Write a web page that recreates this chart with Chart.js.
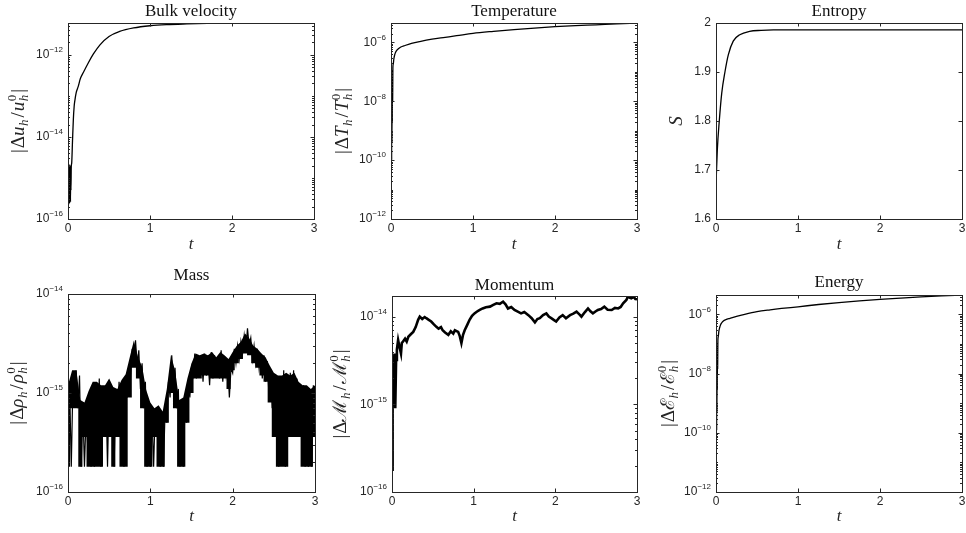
<!DOCTYPE html>
<html>
<head>
<meta charset="utf-8">
<script src="https://cdn.jsdelivr.net/npm/chart.js@4.4.0/dist/chart.umd.min.js"></script>
<style>
  body { margin: 0; background: #fff; overflow: hidden; }
  #wrap { position: relative; width: 966px; height: 533px; }
  #wrap canvas { position: absolute; }
</style>
</head>
<body>
<div id="wrap"></div>
<script>
// ---- data ----
const xTicks = [0, 1, 2, 3];

// Bulk velocity |du/u0|
const bulkT = [0, 0.003, 0.006, 0.009, 0.012, 0.015, 0.018, 0.021, 0.024, 0.027, 0.030, 0.033, 0.036, 0.040,
  0.045, 0.055, 0.065, 0.075, 0.085, 0.10, 0.125, 0.15, 0.19, 0.25, 0.31, 0.39, 0.50, 0.63, 0.80, 1.00,
  1.20, 1.45, 1.70, 2.00, 2.50, 3.00];
const bulkV = [2.3e-16, 1.9e-15, 2.2e-16, 1.6e-15, 3e-16, 2.1e-15, 2.4e-16, 1.8e-15, 3.5e-16, 2.0e-15, 2.6e-16, 1.7e-15, 5e-16, 1.9e-15,
  2.3e-15, 8e-15, 2.6e-14, 5.5e-14, 8e-14, 1.2e-13, 1.7e-13, 2.6e-13, 3.8e-13, 6.5e-13, 1.05e-12, 1.75e-12, 2.8e-12, 3.7e-12, 4.5e-12, 5.1e-12,
  5.45e-12, 5.66e-12, 5.8e-12, 5.87e-12, 5.9e-12, 5.9e-12];
const bulkTicks = [1e-16, 1e-14, 1e-12];

// Temperature |dT/T0|
const tempT = [0, 0.002, 0.004, 0.006, 0.008, 0.010, 0.012, 0.014, 0.016, 0.018, 0.020, 0.023, 0.028, 0.035,
  0.045, 0.055, 0.07, 0.09, 0.12, 0.17, 0.25, 0.35, 0.50, 0.66, 0.80, 1.00, 1.25, 1.50, 1.75, 2.00,
  2.25, 2.50, 2.75, 3.00];
const tempV = [2e-11, 3e-9, 2.5e-11, 6e-8, 1e-10, 1e-7, 4e-10, 8e-8, 2e-9, 1.2e-7, 1e-8, 1.4e-7, 1.9e-7, 2.8e-7,
  3.8e-7, 4.6e-7, 5.4e-7, 6.1e-7, 7e-7, 7.9e-7, 9.3e-7, 1.08e-6, 1.3e-6, 1.5e-6, 1.7e-6, 2.05e-6, 2.4e-6, 2.75e-6, 3.1e-6, 3.45e-6,
  3.75e-6, 4.0e-6, 4.3e-6, 4.55e-6];
const tempTicks = [1e-12, 1e-10, 1e-8, 1e-6];

// Entropy S
const entT = [0, 0.016, 0.04, 0.07, 0.11, 0.15, 0.21, 0.29, 0.41, 0.55, 0.70, 1.0, 2.0, 3.0];
const entV = [1.67, 1.741, 1.80, 1.857, 1.901, 1.935, 1.963, 1.976, 1.983, 1.985, 1.986, 1.986, 1.986, 1.986];
const entTicks = [1.6, 1.7, 1.8, 1.9, 2.0];

// Mass |drho/rho0|, values in units of 1e-16
const MASS_UNIT = 1e-16;
// raw trace, sampled every MASS_DT
const MASS_DT = 0.02;
const massV = [
  1.8, 11, 1.8, 13, 9, 17, 7, 15, 1.8, 7,
  1.8, 6, 2.9, 9, 1.8, 11, 1.8, 12, 5, 14,
  1.8, 11, 3.6, 11, 1.8, 12, 5, 9, 1.8, 10,
  5, 13, 8, 11, 1.8, 12, 9, 17, 15, 28,
  20, 34, 19, 27, 11, 20, 7, 13, 1.8, 7,
  1.8, 6, 1.8, 7, 3.6, 7, 1.8, 6, 1.8, 7,
  5, 13, 9, 24, 12, 18, 7, 11, 1.8, 6,
  1.8, 7, 5, 13, 9, 18, 15, 25, 14, 24,
  17, 23, 13, 25, 15, 22, 12, 26, 14, 24,
  16, 21, 14, 27, 13, 23, 15, 20, 9, 18,
  16, 28, 20, 30, 22, 33, 25, 38, 27, 45,
  30, 36, 22, 30, 20, 28, 18, 25, 14, 24,
  13, 21, 10, 17, 7, 15, 6, 14, 1.8, 13,
  3.6, 17, 1.8, 15, 3.6, 16, 5, 17, 3.6, 14,
  5, 11, 3.6, 12, 1.8, 11, 1.8, 8, 1.8, 12,
  3.6];
// solid part of the trace: upper and lower edge, every MASS_BAND_DT
const MASS_BAND_DT = 0.05;
const massHi = [12, 17, 17, 8.5, 8, 10.5, 13, 13, 12, 12,
  14, 11.5, 11, 13.5, 15.5, 23, 34, 23, 18.5, 10.7,
  8, 7, 7.5, 6.5, 11, 24, 17, 8.5, 9, 14,
  20, 25, 24, 25, 24, 26, 23, 26, 24, 22,
  26, 30, 33, 40, 36, 30, 28, 25, 23, 19,
  16, 15, 15, 16, 15, 16, 13, 12, 12, 11, 12];
const massLo = [1.8, 7, 7, 1.8, 3.6, 1.8, 1.8, 1.8, 1.8, 3.6,
  3.6, 1.8, 3.6, 1.8, 1.8, 9, 18, 14, 7, 1.8,
  1.8, 3.6, 1.8, 1.8, 5, 10, 7, 1.8, 1.8, 5,
  10, 14, 14, 15, 15, 14, 14, 14, 14, 11,
  17, 20, 22, 25, 24, 20, 18, 15, 13, 8,
  3.6, 1.8, 1.8, 1.8, 3.6, 3.6, 3.6, 1.8, 1.8, 1.8, 3.6];
const massTicks = [1e-16, 1e-15, 1e-14];

// Momentum |dM/M0|, values in units of 1e-15
const MOM_UNIT = 1e-15;
const momT = [0.000, 0.005, 0.010, 0.020, 0.030, 0.040, 0.050, 0.060, 0.075, 0.090, 0.110, 0.120, 0.135, 0.160, 0.180,
  0.200, 0.230, 0.260, 0.290, 0.320, 0.340, 0.370, 0.400, 0.420, 0.450, 0.480, 0.510, 0.540, 0.570, 0.600,
  0.620, 0.650, 0.690, 0.720, 0.750, 0.770, 0.810, 0.830, 0.850, 0.870, 0.890, 0.920, 0.950, 0.980, 1.010,
  1.050, 1.080, 1.110, 1.150, 1.200, 1.240, 1.280, 1.320, 1.360, 1.390, 1.420, 1.460, 1.500, 1.540, 1.580,
  1.620, 1.670, 1.710, 1.750, 1.780, 1.810, 1.850, 1.890, 1.920, 1.950, 1.980, 2.010, 2.050, 2.090, 2.130,
  2.180, 2.220, 2.260, 2.300, 2.320, 2.360, 2.400, 2.430, 2.460, 2.500, 2.520, 2.560, 2.600, 2.640, 2.690,
  2.730, 2.770, 2.800, 2.830, 2.870, 2.890, 2.910, 2.930, 2.960, 2.980, 3.000];
const momV = [0.18, 0.5, 3.2, 2.6, 3.8, 0.9, 3.2, 4.2, 5.4, 4.6, 3.8, 5.0, 5.2, 5.6, 5.2,
  5.9, 6.3, 6.7, 7.6, 9.2, 10.0, 9.4, 9.9, 9.6, 9.2, 8.8, 8.2, 7.7, 7.3, 7.6,
  7.0, 6.6, 6.2, 6.8, 6.4, 7.0, 6.7, 6.0, 5.0, 6.2, 7.0, 8.0, 9.2, 10.2, 10.9,
  11.6, 12.0, 12.4, 12.8, 13.0, 13.6, 14.2, 14.0, 14.8, 13.8, 12.4, 12.9, 11.9, 11.4, 10.9,
  11.3, 10.4, 9.6, 8.6, 9.4, 9.6, 10.4, 10.9, 10.0, 9.6, 9.2, 8.8, 9.8, 10.4, 9.6,
  10.4, 10.8, 11.4, 10.5, 10.0, 11.2, 12.4, 11.5, 10.9, 11.6, 11.9, 12.2, 13.0, 12.0, 11.9,
  12.6, 12.4, 12.9, 14.2, 15.5, 17.1, 16.5, 16.2, 16.8, 15.9, 15.8];
const momTicks = [1e-16, 1e-15, 1e-14];

// Energy |dE/E0|
const enerT = tempT;
const enerV = [1.6e-11, 2e-9, 2e-11, 5e-8, 1.2e-10, 9e-8, 5e-10, 7e-8, 3e-9, 1.1e-7, 1.5e-8, 1.3e-7, 1.8e-7, 2.7e-7,
  3.6e-7, 4.4e-7, 5.2e-7, 6e-7, 6.6e-7, 7.3e-7, 8.5e-7, 1.0e-6, 1.23e-6, 1.42e-6, 1.58e-6, 1.8e-6, 2.15e-6, 2.5e-6, 2.85e-6, 3.2e-6,
  3.55e-6, 3.9e-6, 4.2e-6, 4.45e-6];
const enerTicks = [1e-12, 1e-10, 1e-8, 1e-6];

// ---- styling ----
const AXIS_COLOR = '#262626';
const SANS = '"Liberation Sans", Arial, sans-serif';
const TICK_FONT = { family: SANS, size: 12 };
const SERIF = '"Liberation Serif", "Times New Roman", serif';
const CAL = '"DejaVu Serif", serif';
const TITLE_SIZE = 17;

// MATLAB-like box with inward ticks, power-of-ten tick labels and LaTeX-ish y label
const matlabAxes = {
  id: 'matlabAxes',
  afterDatasetsDraw(chart) {
    const { ctx, chartArea: a } = chart;
    const x = chart.scales.x, y = chart.scales.y;
    const p = chart.options.plugins.matlabAxes;
    ctx.save();
    ctx.strokeStyle = AXIS_COLOR;
    ctx.lineWidth = 1;
    ctx.beginPath();
    x.ticks.forEach(tk => {
      const px = Math.round(x.getPixelForValue(tk.value)) + 0.5;
      ctx.moveTo(px, a.bottom); ctx.lineTo(px, a.bottom - 3.5);
      ctx.moveTo(px, a.top); ctx.lineTo(px, a.top + 3.5);
    });
    const hTick = (v, len) => {
      const py = Math.round(y.getPixelForValue(v)) + 0.5;
      ctx.moveTo(a.left, py); ctx.lineTo(a.left + len, py);
      ctx.moveTo(a.right, py); ctx.lineTo(a.right - len, py);
    };
    y.ticks.forEach(tk => hTick(tk.value, 3.5));
    const isLog = y.options.type === 'logarithmic';
    if (isLog) {
      const k0 = Math.floor(Math.log10(y.min)), k1 = Math.ceil(Math.log10(y.max));
      for (let k = k0; k <= k1; k++) {
        for (let m = 1; m < 10; m++) {
          const v = m * Math.pow(10, k);
          if (v >= y.min * 0.999 && v <= y.max) hTick(v, 2);
        }
      }
    }
    ctx.stroke();
    ctx.strokeRect(Math.round(a.left) + 0.5, Math.round(a.top) + 0.5,
      Math.round(a.right - a.left), Math.round(a.bottom - a.top));

    // 10^n labels
    ctx.fillStyle = AXIS_COLOR;
    if (isLog) {
      y.ticks.forEach(tk => {
        const py = y.getPixelForValue(tk.value);
        const e = String(Math.round(Math.log10(tk.value))).replace('-', '\u2212');
        const xr = a.left - 5;
        ctx.textAlign = 'right';
        ctx.textBaseline = 'middle';
        ctx.font = '8px ' + SANS;
        const ew = ctx.measureText(e).width;
        ctx.fillText(e, xr, py - 5);
        ctx.font = '12px ' + SANS;
        ctx.fillText('10', xr - ew, py);
      });
    }

    // y label with sub/superscripts, rotated
    drawRich(ctx, p.label, p.labelX, (a.top + a.bottom) / 2, p.labelSize);
    ctx.restore();
  }
};

function drawRich(ctx, tokens, cx, cy, size) {
  const small = Math.round(size * 0.68);
  const f = {
    r: size + 'px ' + SERIF,
    i: 'italic ' + size + 'px ' + SERIF,
    c: size + 'px ' + CAL,
    sub: 'italic ' + small + 'px ' + SERIF,
    sup: small + 'px ' + SERIF
  };
  const widthOf = tk => {
    if (tk.sub !== undefined || tk.sup !== undefined) {
      ctx.font = f.sub; const a = tk.sub ? ctx.measureText(tk.sub).width : 0;
      ctx.font = f.sup; const b = tk.sup ? ctx.measureText(tk.sup).width : 0;
      return Math.max(a, b) + 1.5;
    }
    ctx.font = f[tk.f || 'r'];
    return ctx.measureText(tk.s).width + (tk.pad || 0);
  };
  const total = tokens.reduce((s, tk) => s + widthOf(tk), 0);
  ctx.save();
  ctx.translate(cx, cy);
  ctx.rotate(-Math.PI / 2);
  ctx.fillStyle = AXIS_COLOR;
  ctx.textAlign = 'left';
  ctx.textBaseline = 'alphabetic';
  const base = size * 0.3;
  let xx = -total / 2;
  tokens.forEach(tk => {
    const w = widthOf(tk);
    if (tk.sub !== undefined || tk.sup !== undefined) {
      if (tk.sub) { ctx.font = f.sub; ctx.fillText(tk.sub, xx + 0.5, base + size * 0.22); }
      if (tk.sup) { ctx.font = f.sup; ctx.fillText(tk.sup, xx + 0.5, base - size * 0.42); }
    } else {
      ctx.font = f[tk.f || 'r'];
      ctx.fillText(tk.s, xx + (tk.pad || 0) / 2, base);
    }
    xx += w;
  });
  ctx.restore();
}

const bar = { s: '|', pad: 2 };
const panels = [
  { title: 'Bulk velocity', t: bulkT, v: bulkV, log: true,
    label: [bar, { s: '\u0394' }, { s: 'u', f: 'i' }, { sub: 'h' }, { s: '/', pad: 2 }, { s: 'u', f: 'i' }, { sub: 'h', sup: '0' }, bar],
    ymin: 1e-16, ymax: 5.95e-12, yticks: bulkTicks, lw: 1.3, smooth: true,
    plotL: 68, plotR: 314, plotT: 23, plotB: 219, titleY: 11, ylabX: 18, xlabY: 245 },
  { title: 'Temperature', t: tempT, v: tempV, log: true,
    label: [bar, { s: '\u0394' }, { s: 'T', f: 'i' }, { sub: 'h' }, { s: '/', pad: 2 }, { s: 'T', f: 'i' }, { sub: 'h', sup: '0' }, bar],
    ymin: 1e-12, ymax: 4.6e-6, yticks: tempTicks, lw: 1.3, smooth: true,
    plotL: 391, plotR: 637, plotT: 23, plotB: 219, titleY: 11, ylabX: 342, xlabY: 245 },
  { title: 'Entropy', t: entT, v: entV, log: false,
    label: [{ s: 'S', f: 'i' }],
    ymin: 1.6, ymax: 2.0, yticks: entTicks, lw: 1.3, smooth: true,
    plotL: 716, plotR: 962, plotT: 23, plotB: 219, titleY: 11, ylabX: 676, xlabY: 245 },
  { title: 'Mass', t: massV.map((_, i) => i * MASS_DT), v: massV.map(m => m * MASS_UNIT), log: true,
    band: { t: massHi.map((_, i) => i * MASS_BAND_DT), hi: massHi.map(m => m * MASS_UNIT), lo: massLo.map(m => m * MASS_UNIT) },
    label: [bar, { s: '\u0394' }, { s: '\u03C1', f: 'i' }, { sub: 'h' }, { s: '/', pad: 2 }, { s: '\u03C1', f: 'i' }, { sub: 'h', sup: '0' }, bar],
    ymin: 1e-16, ymax: 1e-14, yticks: massTicks, lw: 1.2, smooth: false,
    plotL: 68, plotR: 315, plotT: 294, plotB: 492, titleY: 275, ylabX: 17, xlabY: 517 },
  { title: 'Momentum', t: momT, v: momV.map(m => m * MOM_UNIT), log: true,
    label: [bar, { s: '\u0394' }, { s: '\u2133', f: 'c' }, { sub: 'h' }, { s: '/', pad: 2 }, { s: '\u2133', f: 'c' }, { sub: 'h', sup: '0' }, bar],
    ymin: 1e-16, ymax: 1.72e-14, yticks: momTicks, lw: 2.6, smooth: false,
    plotL: 392, plotR: 637, plotT: 296, plotB: 492, titleY: 285, ylabX: 340, xlabY: 517 },
  { title: 'Energy', t: enerT, v: enerV, log: true,
    label: [bar, { s: '\u0394' }, { s: '\u2130', f: 'c' }, { sub: 'h' }, { s: '/', pad: 2 }, { s: '\u2130', f: 'c' }, { sub: 'h', sup: '0' }, bar],
    ymin: 1e-12, ymax: 4.5e-6, yticks: enerTicks, lw: 1.3, smooth: true,
    plotL: 716, plotR: 962, plotT: 295, plotB: 492, titleY: 282, ylabX: 668, xlabY: 517 }
];

const wrap = document.getElementById('wrap');
const titleLH = TITLE_SIZE * 1.2;

panels.forEach(p => {
  const top = Math.round(p.titleY - 2 - titleLH / 2);
  const left = Math.round(p.ylabX - 10);
  const W = p.plotR + 4 - left;
  const H = Math.round(p.xlabY + 10) - top;
  const wy = p.plotL - left;
  const hx = H - (p.plotB - top);

  const cv = document.createElement('canvas');
  cv.width = W; cv.height = H;
  cv.style.left = left + 'px'; cv.style.top = top + 'px';
  cv.style.width = W + 'px'; cv.style.height = H + 'px';
  wrap.appendChild(cv);

  const datasets = [];
  if (p.band) {
    datasets.push({ data: p.band.t.map((tt, i) => ({ x: tt, y: p.band.lo[i] })), stepped: 'middle',
      borderWidth: 0, pointRadius: 0, fill: false, borderColor: 'rgba(0,0,0,0)' });
    datasets.push({ data: p.band.t.map((tt, i) => ({ x: tt, y: p.band.hi[i] })),
      borderWidth: 0, pointRadius: 0, fill: '-1', backgroundColor: '#000', borderColor: 'rgba(0,0,0,0)' });
  }
  datasets.push({
    data: p.t.map((tt, i) => ({ x: tt, y: p.v[i] })),
    borderColor: '#000',
    borderWidth: p.lw,
    pointRadius: 0,
    fill: false,
    cubicInterpolationMode: p.smooth ? 'monotone' : 'default',
    tension: 0
  });

  new Chart(cv.getContext('2d'), {
    type: 'line',
    data: { datasets },
    options: {
      responsive: false,
      animation: false,
      devicePixelRatio: 1,
      layout: { padding: 0 },
      plugins: {
        legend: { display: false },
        tooltip: { enabled: false },
        title: {
          display: true, text: p.title, fullSize: false,
          color: '#111',
          font: { family: SERIF, size: TITLE_SIZE, weight: 'normal' },
          padding: { top: 2, bottom: p.plotT - top - 2 - titleLH }
        },
        matlabAxes: { label: p.label, labelX: p.ylabX - left, labelSize: 19 }
      },
      scales: {
        x: {
          type: 'linear', min: 0, max: 3,
          grid: { display: false, drawTicks: false },
          border: { display: false },
          afterBuildTicks: s => { s.ticks = xTicks.map(v => ({ value: v })); },
          afterFit: s => { s.height = hx; s.paddingLeft = 0; s.paddingRight = 4; },
          ticks: { font: TICK_FONT, color: AXIS_COLOR, padding: 2, maxRotation: 0, callback: v => String(v) },
          title: { display: true, text: 't', color: AXIS_COLOR, padding: 0,
            font: { family: SERIF, size: 17, style: 'italic' } }
        },
        y: {
          type: p.log ? 'logarithmic' : 'linear', min: p.ymin, max: p.ymax,
          grid: { display: false, drawTicks: false },
          border: { display: false },
          afterBuildTicks: s => { s.ticks = p.yticks.map(v => ({ value: v })); },
          afterFit: s => { s.width = wy; s.paddingTop = 0; s.paddingBottom = 0; },
          ticks: { display: !p.log, font: TICK_FONT, color: AXIS_COLOR, padding: 5,
            callback: v => (v === 2 ? '2' : v.toFixed(1)) }
        }
      }
    },
    plugins: [matlabAxes]
  });
});
</script>
</body>
</html>
